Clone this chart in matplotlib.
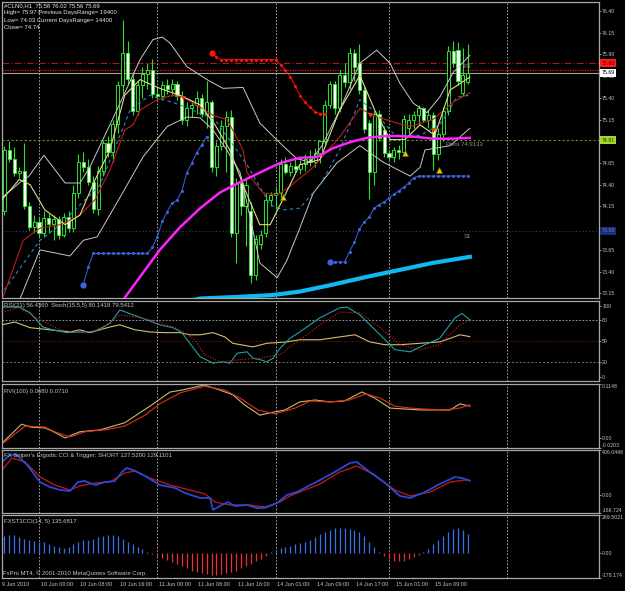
import numpy as np
import matplotlib
matplotlib.use("Agg")
import matplotlib.pyplot as plt
from matplotlib.transforms import blended_transform_factory as blend

plt.rcParams['font.family'] = ['Liberation Sans', 'DejaVu Sans']

# ---------------- H1 candles (bar index 0..94) ----------------
opens = [74.10, 74.80, 74.70, 74.53, 74.56, 74.15, 73.91, 73.97, 73.84, 74.02,
         73.95, 74.00, 73.82, 74.03, 73.90, 74.30, 74.66, 74.60, 74.43, 74.12,
         74.56, 74.88, 74.78, 75.10, 75.55, 75.92, 75.62, 75.25, 75.55, 75.68,
         75.72, 75.45, 75.42, 75.55, 75.50, 75.56, 75.42, 75.14, 75.28, 75.32,
         75.40, 75.22, 75.35, 74.60, 74.85, 75.08, 75.18, 73.85, 74.42, 74.15,
         74.10, 73.36, 73.72, 73.85, 74.22, 74.28, 74.30, 74.64, 74.55, 74.62,
         74.58, 74.64, 74.70, 74.66, 74.76, 74.90, 75.32, 75.56, 75.28, 75.66,
         75.58, 75.92, 75.80, 75.49, 75.11, 74.55, 75.22, 75.03, 74.77, 74.72,
         74.80, 74.78, 75.05, 75.15, 75.20, 75.28, 75.15, 75.20, 74.75, 74.98,
         75.25, 75.94, 75.95, 75.46, 75.58]
highs = [74.85, 74.90, 74.84, 74.60, 74.88, 74.20, 74.05, 74.02, 74.10, 74.06,
         74.05, 74.04, 74.08, 74.10, 74.40, 74.75, 74.78, 74.70, 74.50, 74.62,
         74.92, 74.96, 75.15, 75.60, 76.30, 76.05, 75.70, 75.60, 75.75, 75.80,
         75.85, 75.52, 75.60, 75.62, 75.62, 75.60, 75.48, 75.35, 75.36, 75.48,
         75.44, 75.60, 75.38, 74.90, 75.15, 75.25, 75.26, 74.48, 74.50, 74.48,
         74.20, 73.82, 73.88, 74.30, 74.32, 74.36, 74.70, 74.72, 74.66, 74.70,
         74.68, 74.75, 74.80, 74.82, 74.92, 75.38, 75.60, 75.60, 75.72, 75.80,
         75.98, 75.96, 76.02, 75.52, 75.14, 75.25, 75.26, 75.08, 74.80, 74.84,
         74.86, 75.20, 75.22, 75.25, 75.32, 75.30, 75.26, 75.24, 75.05, 75.30,
         76.00, 76.06, 76.04, 75.98, 76.02]
lows = [74.05, 74.66, 74.50, 74.48, 74.12, 73.88, 73.85, 73.80, 73.80, 73.85,
        73.76, 73.78, 73.80, 73.86, 73.86, 74.25, 74.55, 74.40, 74.08, 74.05,
        74.50, 74.72, 74.66, 75.00, 75.45, 75.55, 75.20, 75.20, 75.40, 75.50,
        75.40, 75.38, 75.38, 75.45, 75.42, 75.38, 75.10, 75.08, 75.18, 75.22,
        75.18, 75.05, 74.55, 74.50, 74.80, 74.55, 73.80, 73.50, 74.05, 73.70,
        73.27, 73.30, 73.66, 73.80, 74.15, 74.12, 74.25, 74.52, 74.50, 74.55,
        74.52, 74.56, 74.62, 74.60, 74.65, 74.86, 75.28, 75.22, 75.24, 75.52,
        75.50, 75.60, 75.45, 75.00, 74.24, 74.40, 74.90, 74.72, 74.68, 74.66,
        74.70, 74.74, 75.00, 75.05, 75.10, 75.12, 75.05, 74.57, 74.68, 74.90,
        75.20, 75.75, 75.55, 75.42, 75.56]
closes = [74.80, 74.70, 74.53, 74.56, 74.15, 73.91, 73.97, 73.84, 74.02, 73.95,
          74.00, 73.82, 74.03, 73.90, 74.30, 74.66, 74.60, 74.43, 74.12, 74.56,
          74.88, 74.78, 75.10, 75.55, 75.92, 75.62, 75.25, 75.55, 75.68, 75.72,
          75.45, 75.42, 75.55, 75.50, 75.56, 75.42, 75.14, 75.28, 75.32, 75.40,
          75.22, 75.35, 74.60, 74.85, 75.08, 75.18, 73.85, 74.42, 74.15, 74.40,
          73.36, 73.78, 73.82, 74.22, 74.28, 74.30, 74.64, 74.55, 74.62, 74.58,
          74.64, 74.70, 74.66, 74.76, 74.90, 75.32, 75.56, 75.28, 75.66, 75.58,
          75.92, 75.75, 75.49, 75.04, 74.55, 75.22, 74.94, 74.77, 74.72, 74.80,
          74.78, 75.16, 75.15, 75.20, 75.28, 75.15, 75.20, 74.75, 74.98, 75.25,
          75.94, 75.80, 75.60, 75.66, 75.69]

# ---------------- main-window indicators ----------------
bb_up_x = [-0.5, 3, 5, 8, 12.3, 15.3, 17.3, 22.8, 27.5, 30.1, 32, 33.6, 37, 41.1, 44.3, 48.4,
           51.8, 55.9, 59.3, 62, 64.4, 68, 72.1, 75.5, 78.2, 80.2, 82.9, 85.7, 88.3, 91, 94.4]
bb_up = [74.25, 74.42, 74.50, 74.74, 74.42, 74.42, 74.60, 75.26, 75.84, 76.07, 76.10, 76.03,
         75.76, 75.61, 75.51, 75.52, 75.11, 74.88, 74.70, 74.66, 74.85, 75.26, 75.80, 75.95,
         75.80, 75.57, 75.34, 75.23, 75.41, 75.69, 75.89]
bb_lo_x = [-0.5, 3.1, 7.2, 13.3, 16, 18.8, 24, 28.1, 33, 37, 39.7, 42.3, 45.1, 47.8, 49.8,
           51.8, 55.3, 57.3, 59.9, 62.6, 67.4, 72.1, 76.8, 82.3, 84.3, 85.3, 90.4, 94.4]
bb_lo = [73.00, 73.08, 73.65, 73.58, 73.76, 73.80, 74.31, 74.72, 75.07, 75.18, 75.17, 75.03,
         74.80, 74.54, 74.03, 73.50, 73.33, 73.53, 73.90, 74.30, 74.65, 74.85, 74.66, 74.50,
         74.60, 74.80, 74.85, 75.05]

ma_yel_x = [-0.5, 3, 5.2, 8.2, 12.3, 15.3, 18.4, 21.4, 24.4, 27.5, 31.5, 35.6, 39.7, 42.7, 45.7,
            48.8, 51.8, 53.9, 56.9, 59.9, 64, 68, 72.1, 75.1, 78.2, 81.2, 84.3, 87.3, 90.4, 94.4]
ma_yel = [74.23, 74.46, 74.40, 74.11, 73.94, 74.05, 74.46, 74.80, 75.43, 75.61, 75.51, 75.43,
          75.32, 75.09, 74.80, 74.34, 73.94, 73.94, 74.28, 74.63, 74.69, 75.26, 75.66, 75.26,
          74.92, 74.92, 75.09, 74.97, 75.49, 75.64]

ma_red_x = [-0.5, 3.8, 7.2, 11.3, 15.3, 18.4, 21.4, 24.4, 26.1, 27.5, 31, 34.2, 36.2, 39.7, 42.3,
            45.1, 46.3, 48.4, 49.2, 52.4, 55.3, 57.9, 62.6, 68, 72.1, 74.7, 79.6, 82.3, 86.9, 91, 94.4]
ma_red = [73.07, 73.76, 73.90, 73.94, 74.05, 74.23, 74.57, 75.03, 75.09, 75.26, 75.38, 75.43,
          75.41, 75.29, 75.20, 75.15, 75.03, 74.80, 74.54, 74.31, 74.28, 74.38, 74.60, 74.95,
          75.28, 75.20, 75.11, 75.07, 75.15, 75.35, 75.46]

ma_cyan_x = [0, 7.2, 11.3, 19.4, 25.5, 29.5, 35.6, 42.7, 49.2, 53.9, 56.5, 59.9, 64, 68, 72.1,
             74.7, 79.2, 84.3, 88.3, 91.8, 94.4]
ma_cyan = [73.19, 73.76, 73.94, 74.40, 75.26, 75.43, 75.32, 75.15, 74.63, 74.17, 74.11, 74.13,
           74.40, 74.80, 75.38, 75.26, 74.97, 74.97, 75.09, 75.41, 75.43]

ma_mag_x = [23.0, 24.4, 27.5, 31.5, 35.6, 39.7, 43.7, 47.8, 51.8, 55.9, 59.9, 63.4, 66.6, 70.1,
            73.5, 76.8, 80.2, 83.7, 86.9, 90.4, 94.4]
ma_mag = [72.95, 73.10, 73.34, 73.65, 73.91, 74.13, 74.31, 74.43, 74.54, 74.65, 74.71, 74.72,
          74.82, 74.89, 74.94, 74.96, 74.96, 74.95, 74.93, 74.93, 74.94]

ma_sky_x = [36.0, 39.7, 47.8, 54.5, 59.9, 66.6, 73.5, 80.2, 86.9, 94.4]
ma_sky = [73.04, 73.09, 73.11, 73.13, 73.17, 73.25, 73.34, 73.42, 73.50, 73.57]

# parabolic SAR, one value per bar
sar1_start = 16
sar1 = [73.25, 73.45] + [73.61] * 12 + [73.68, 73.80, 73.98, 74.09, 74.19, 74.22, 74.33,
                                        74.54, 74.65, 74.77, 74.86, 74.95]
sar2_start = 42
sar2 = [75.92, 75.87] + [75.84] * 12 + [75.78, 75.72, 75.64, 75.54, 75.42, 75.35, 75.29,
                                        75.24, 75.22, 75.22]
sar3_start = 66
sar3 = [73.51] * 4 + [73.63, 73.74, 73.89, 73.97, 74.03, 74.13, 74.17, 74.20, 74.25, 74.29,
                      74.33, 74.37, 74.42, 74.48] + [74.50] * 11

fr_up_x = [56.4, 81.2, 88.1]
fr_up = [74.26, 74.77, 74.57]
fr_dn_x = [36.2, 74.1, 86.9]
fr_dn = [75.40, 75.20, 75.03]

r1, ask_px, bid_px, pivot, s1 = 75.80, 75.72, 75.69, 74.9133, 73.87

# ---------------- RSI / Stochastic ----------------
stoch_x = [-0.5, 3, 5.2, 7.8, 9.8, 12.7, 15.3, 18, 21.4, 23.4, 26.1, 28.9, 31.5, 34.2, 36, 37.6,
           39.7, 42.3, 44.3, 45.7, 47.2, 49.2, 50.4, 51.8, 53.2, 54.5, 55.9, 57.9, 59.9, 64, 68,
           69.5, 72.1, 76.2, 79.2, 82.3, 85.3, 88.3, 91.4, 92.8, 94.4]
stoch = [98, 98, 90, 70, 66, 62, 63, 63, 75, 94, 87, 80, 73, 69, 62, 47, 28, 19, 21, 19, 33, 35,
         26, 24, 21, 26, 40, 54, 63, 83, 97, 98, 87, 59, 38, 35, 45, 54, 83, 89, 80.14]
stoch_sig_x = [-0.5, 3, 7.2, 11.3, 15.3, 19.4, 23.4, 27.5, 31.5, 35.6, 38.6, 40.6, 43.7, 47.8,
               51.8, 55.9, 59.9, 64, 68, 72.1, 76.2, 80.2, 84.3, 88.3, 92.4, 94.4]
stoch_sig = [91, 97, 80, 66, 62, 66, 87, 83, 77, 66, 52, 31, 21, 24, 26, 31, 52, 73, 91, 90, 69,
             45, 38, 45, 73, 79.54]
rsi_x = [-0.5, 2.1, 5.2, 9.2, 13.3, 15.3, 17.3, 21.4, 23.4, 26.5, 29.5, 32.5, 35.6, 37.6, 39.7,
         42.3, 44.7, 46.3, 50.4, 53.2, 57.3, 59.9, 64, 68, 71.1, 74.1, 77.2, 80.2, 84.3, 88.3,
         90.4, 92.4, 94.4]
rsi = [73, 77, 69, 66, 63, 66, 62, 70, 73, 66, 63, 62, 62, 59, 59, 62, 56, 47, 42, 47, 49, 52,
       52, 56, 59, 49, 45, 45, 47, 49, 54, 59, 56.44]

# ---------------- RVI ----------------
rvi_x = [-0.5, 3.5, 5.2, 8.2, 9.6, 12.3, 15.3, 19.4, 24.4, 29.5, 33.6, 36, 40.5, 43.7, 46.3, 48.8,
         51.8, 53.9, 56.9, 59.9, 63, 66, 69, 72.5, 75.1, 78.2, 81.2, 84.3, 88.3, 90.4, 92.4, 94.4]
rvi = [-0.010, 0.030, 0.024, 0.022, 0.016, 0.001, 0.014, 0.018, 0.033, 0.068, 0.098, 0.102,
       0.1127, 0.102, 0.092, 0.070, 0.049, 0.054, 0.060, 0.077, 0.081, 0.077, 0.079, 0.098,
       0.085, 0.064, 0.062, 0.060, 0.060, 0.060, 0.073, 0.068]
rvi_sig_x = [-0.5, 4.2, 8.2, 10.2, 13.3, 16.3, 20.4, 24.4, 28.5, 31.5, 35.6, 40.6, 44.7, 47.8,
             51.4, 54.9, 59, 62, 66, 70, 73.3, 76.2, 79.2, 82.3, 85.3, 89.3, 92.4, 94.4]
rvi_sig = [-0.012, 0.026, 0.024, 0.014, 0.003, 0.014, 0.018, 0.026, 0.049, 0.073, 0.096, 0.110,
           0.102, 0.085, 0.060, 0.052, 0.064, 0.079, 0.077, 0.081, 0.094, 0.085, 0.068, 0.064,
           0.062, 0.060, 0.064, 0.071]

# ---------------- Ergodic CCI & trigger ----------------
cci_x = [-0.5, 1.1, 2.5, 4.6, 7.2, 9.2, 11.3, 13.3, 14.9, 16.3, 18.4, 20.4, 22.4, 23.8, 24.8, 26.1,
         28.5, 31.5, 34.6, 36.6, 39.7, 41.7, 42.3, 43.7, 45.3, 46.7, 49.2, 51.2, 52.8, 55.3, 57.3,
         59.3, 64, 67, 70.1, 71.5, 74.1, 77.2, 80.2, 82.3, 85.3, 88.3, 91.4, 92.8, 94.4]
cci = [297, 361, 361, 270, 115, 70, 42, 33, 115, 124, 88, 115, 124, 206, 242, 224, 170, 88, 61,
       15, -30, -30, -139, -103, -67, -103, -94, -121, -121, -76, -3, 24, 133, 206, 288, 297,
       206, 106, -12, -30, 24, 97, 161, 151, 127.52]
trig_x = [-0.5, 1.5, 4.2, 7.2, 10.2, 13.3, 15.3, 18.4, 21.4, 24.4, 26.5, 29.5, 33.6, 37.6, 40.7,
          42.7, 45.7, 49.8, 52.8, 55.9, 57.9, 59.9, 64, 68, 71.5, 75.1, 79.2, 82.3, 86.3, 90.4,
          93.4, 94.4]
trig = [224, 333, 297, 161, 88, 42, 79, 106, 115, 197, 215, 151, 88, 42, 6, -67, -94, -94, -112,
        -67, -12, 24, 97, 206, 260, 179, 42, -12, 24, 115, 133, 129.11]

# ---------------- FXST3CCI histogram (per bar) ----------------
fxst = [120, 130, 125, 110, 100, 90, 85, 80, 75,
        60, 50, 40, 35, 45, 60, 80, 90,
        95, 100, 110, 120, 125, 130, 120, 100, 80, 60, 40, 25,
        10, -5, -20, -35, -50,
        -65, -80, -95, -110, -125, -135, -145, -150, -155, -155, -150, -145, -135, -125,
        -110, -95, -80, -60, -40, -20, 5, 20, 35,
        45, 50, 60, 70, 80, 95, 115, 135,
        150, 165, 175, 180, 178, 170, 160, 150, 120, 80, 40,
        10, -20, -40, -55, -60, -55, -45, -30, -15,
        5, 30, 60, 90, 120, 150, 170, 180, 165, 136]

# ---------------- time axis ----------------
xtick_bars = [7, 15, 23, 31, 39, 47, 55, 63, 71, 79, 87]
xtick_labels = ['10 Jun 00:00', '10 Jun 08:00', '10 Jun 16:00', '11 Jun 00:00', '11 Jun 08:00',
                '11 Jun 16:00', '14 Jun 01:00', '14 Jun 09:00', '14 Jun 17:00', '15 Jun 01:00',
                '15 Jun 09:00']
grid_bars = [7, 31, 55, 78, 102]

W, H = 625, 591
FG = '#c4c4c4'
GREEN = '#2ee02e'
fig = plt.figure(figsize=(W / 100, H / 100), dpi=100, facecolor='black')


def pane(top, bottom):
    ax = fig.add_axes([2 / W, 1 - bottom / H, 597 / W, (bottom - top) / H])
    ax.set_facecolor('black')
    for s in ax.spines.values():
        s.set_color('#a8a8a8')
        s.set_linewidth(0.9)
    ax.set_xlim(-0.5, 120.6)
    ax.set_xticks([])
    ax.yaxis.tick_right()
    ax.tick_params(axis='y', colors=FG, labelsize=3.8, length=1.5, width=0.5, pad=0.8)
    for g in grid_bars:
        ax.axvline(g, color='#bdbdbd', lw=0.6, ls=(0, (2, 2)), zorder=1)
    return ax


# ---------- main price window ----------
ax = pane(2, 298)
ax.set_ylim(73.096, 76.504)
pt = [73.15 + 0.25 * k for k in range(14)]
hidden = {'74.90', '73.90'}   # covered by the pivot / S1 price boxes
ax.set_yticks(pt, ['' if '%.2f' % v in hidden else '%.2f' % v for v in pt])

ax.axhline(r1, color='#b01818', lw=0.8, ls=(0, (6, 2, 1, 2)), zorder=2)
ax.axhline(ask_px, color='#ff1010', lw=0.9, ls=(0, (1, 1)), zorder=2)
ax.axhline(bid_px, color='#a0a0a0', lw=0.8, zorder=2)
ax.axhline(pivot, color='#6b8e23', lw=0.8, ls=(0, (2, 2)), zorder=2)
ax.axhline(s1, color='#28407a', lw=0.8, ls=(0, (1, 2)), zorder=2)

o, hi, lo, c = map(np.array, (opens, highs, lows, closes))
xb = np.arange(len(o))
up = c >= o
ax.vlines(xb, lo, hi, color=GREEN, lw=0.8, zorder=3)
bot = np.minimum(o, c)
hgt = np.maximum(np.abs(c - o), 0.012)
ax.bar(xb[up], hgt[up], bottom=bot[up], width=0.62, color='black', edgecolor=GREEN, lw=0.7, zorder=3.5)
ax.bar(xb[~up], hgt[~up], bottom=bot[~up], width=0.62, color='white', edgecolor=GREEN, lw=0.7, zorder=3.5)

ax.plot(bb_up_x, bb_up, color='#c8c8c8', lw=0.7, zorder=4)
ax.plot(bb_lo_x, bb_lo, color='#c8c8c8', lw=0.7, zorder=4)
ax.plot(ma_cyan_x, ma_cyan, color='#2090c8', lw=0.8, ls=(0, (3, 3)), zorder=4)
ax.plot(ma_red_x, ma_red, color='#c01c1c', lw=0.8, zorder=4)
ax.plot(ma_yel_x, ma_yel, color='#dede8a', lw=0.8, zorder=4)
ax.plot(ma_mag_x, ma_mag, color='#ff22ff', lw=1.8, zorder=5)
ax.plot(ma_sky_x, ma_sky, color='#10b8f0', lw=3, zorder=5)

for start, vals, col in ((sar1_start, sar1, '#3a64e0'), (sar2_start, sar2, '#ff1010'),
                         (sar3_start, sar3, '#3a64e0')):
    xs = np.arange(start, start + len(vals))
    ax.plot(xs, vals, color=col, lw=0.7, marker='o', ms=2.2, mec='none', zorder=6)
    ax.plot(xs[0], vals[0], color=col, marker='o', ms=4.5, mec='none', zorder=6)

ax.plot(fr_up_x, fr_up, ls='none', marker='^', ms=4, color='#e8c800', mec='#806000', mew=0.4, zorder=6)
ax.plot(fr_dn_x, fr_dn, ls='none', marker='v', ms=3.5, color='#ff3010', mec='none', zorder=6)

ax.text(89.5, 74.86, 'Pivot 74.9133', color='#909090', fontsize=4.3, va='center', zorder=7)
ax.text(93.2, 75.76, 'R1', color='#909090', fontsize=4.3, va='center', zorder=7)
ax.text(93.2, 73.80, 'S1', color='#909090', fontsize=4.3, va='center', zorder=7)

ty = blend(ax.transAxes, ax.transData)
for val, txt, fc, tc in ((r1, '75.80', '#ff1a1a', '#500000'), (bid_px, '75.69', '#ffffff', '#000000'),
                         (pivot, '74.91', '#a6d82a', '#203000'), (s1, '73.88', '#1c2f78', '#5a78d0')):
    ax.text(1.004, val, txt, transform=ty, fontsize=3.8, color=tc, va='center', ha='left',
            clip_on=False, zorder=8, bbox=dict(boxstyle='square,pad=0.25', fc=fc, ec='none'))

head = ['#CLN0,H1  75.58 76.02 75.56 75.69', 'High= 75.97 Previous DaysRange= 19400',
        'Low= 74.03 Current DaysRange= 14400', 'Close= 74.74']
for i, t in enumerate(head):
    fig.text(4 / W, 1 - (5.5 + 7.3 * i) / H, t, color='#e8e8e8', fontsize=4.3, va='center')

# ---------- RSI + Stochastic ----------
ax2 = pane(301, 381)
ax2.set_ylim(-6.1, 106.6)
ax2.set_yticks([100, 80, 50, 20, 0], ['100', '80', '50', '20', '0'])
ax2.axhline(80, color='#b0b0b0', lw=0.6, ls=(0, (2, 2)))
ax2.axhline(50, color='#a01010', lw=0.7, ls=(0, (1, 2)))
ax2.axhline(20, color='#808060', lw=0.7, ls=(0, (2, 2)))
ax2.plot(rsi_x, rsi, color='#d2c070', lw=0.8)
ax2.plot(stoch_x, stoch, color='#1ca0a8', lw=0.8)
ax2.plot(stoch_sig_x, stoch_sig, color='#e02020', lw=0.8, ls=(0, (1, 1.5)))
fig.text(4 / W, 1 - 306 / H, 'RSI(21) 56.4360  Stoch(15,5,5) 80.1418 79.5412', color=FG,
         fontsize=4.3, va='center')

# ---------- RVI ----------
ax3 = pane(384, 448)
ax3.set_ylim(-0.0203, 0.1148)
ax3.set_yticks([0.1148, 0.0, -0.0203], ['0.1148', '0.00', '-0.0203'])
ax3.plot(rvi_x, rvi, color='#c8b870', lw=0.8)
ax3.plot(rvi_sig_x, rvi_sig, color='#e03018', lw=0.8)
fig.text(4 / W, 1 - 392 / H, 'RVI(100) 0.0680 0.0710', color=FG, fontsize=4.3, va='center')

# ---------- Ergodic CCI ----------
ax4 = pane(450, 513)
ax4.set_ylim(-166.724, 406.0448)
ax4.set_yticks([406.0448, 0.0, -166.724], ['406.0448', '0.00', '-166.724'])
ax4.plot(trig_x, trig, color='#c81818', lw=0.9)
ax4.plot(cci_x, cci, color='#2848d8', lw=1.3)
fig.text(4 / W, 1 - 456 / H, "FX Sniper's Ergodic CCI & Trigger: SHORT 127.5200 129.1101", color=FG,
         fontsize=4.3, va='center')

# ---------- FXST3CCI ----------
ax5 = pane(515, 578)
ax5.set_ylim(-178.174, 269.5021)
ax5.set_yticks([269.5021, 0.0, -178.174], ['269.5021', '0.00', '-178.174'])
fx = np.array(fxst)
ax5.vlines(np.arange(len(fx)), 0, fx, colors=np.where(fx >= 0, '#3a70e8', '#e83030'), lw=0.9)
fig.text(4 / W, 1 - 521 / H, 'FXST3CCI(14, 5) 135.6817', color=FG, fontsize=4.3, va='center')
fig.text(3 / W, 1 - 573 / H, 'FxPro MT4, \u00a9 2001-2010 MetaQuotes Software Corp.', color=FG,
         fontsize=4.3, va='center')

for a in (ax3, ax4, ax5):
    labs = a.get_yticklabels()
    labs[0].set_va('top')
    labs[-1].set_va('bottom')

tx = blend(ax5.transData, ax5.transAxes)
ax5.text(-0.4, -0.07, '9 Jun 2010', transform=tx, color=FG, fontsize=4, ha='left', va='top', clip_on=False)
for b, t in zip(xtick_bars, xtick_labels):
    ax5.text(b + 0.35, -0.07, t, transform=tx, color=FG, fontsize=4, ha='left', va='top', clip_on=False)

fig.savefig('out.png', dpi=100, facecolor='black')
